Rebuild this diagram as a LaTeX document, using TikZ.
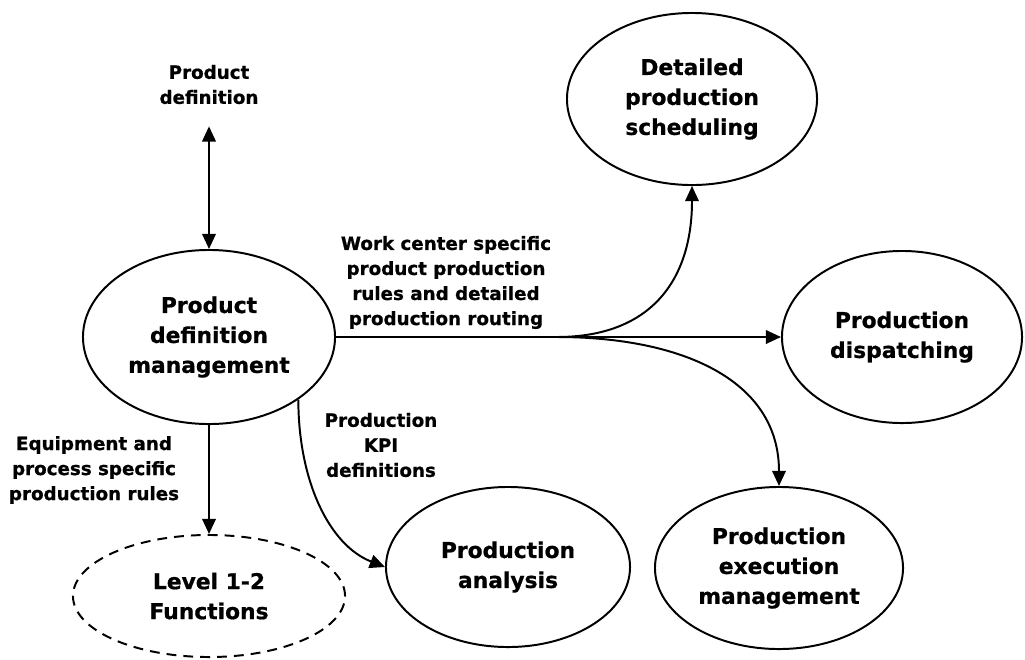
\documentclass[tikz,border=0pt]{standalone}
\usepackage{fontspec}
\setmainfont{DejaVu Sans}[BoldFeatures={FakeBold=0.8}]
\usetikzlibrary{positioning,shapes.geometric,arrows.meta}

\tikzset{
	func/.style={ellipse, draw, line width=1.4pt, inner sep=0pt, align=center, font=\fontsize{15.5}{21.3}\selectfont\bfseries},
	flowlabel/.style={align=center, inner sep=0pt, font=\fontsize{13}{17.8}\selectfont\bfseries},
	flow/.style={line width=1.4pt, ->}
}

\begin{document}
\begin{tikzpicture}[x=0.025cm, y=-0.025cm, >={Triangle[length=0.38cm,width=0.34cm]}]
					\pgfmathsetmacro{\FlowY}{337}
					\pgfmathsetmacro{\SplitX}{557}
					\useasboundingbox (0,0) rectangle (1025,659);
					% FUNCTIONS
					\node[func, minimum width=6.3cm, minimum height=4.35cm] (pdm) at (209,\FlowY) {Product\\definition\\management};
					\node[func, minimum width=6.25cm, minimum height=4.3cm] (dps) at (692,99) {Detailed\\production\\scheduling};
					\node[func, minimum width=6cm, minimum height=4.3cm] (pd) at (902,\FlowY) {Production\\dispatching};
					\node[func, minimum width=6.2cm, minimum height=4.05cm] (pem) at (779,568) {Production\\execution\\management};
					\node[func, minimum width=6.1cm, minimum height=4cm] (pa) at (508,567) {Production\\analysis};
					\node[func, dashed, dash pattern=on 7pt off 5pt, minimum width=6.8cm, minimum height=3.05cm] (lvl) at (209,596) {Level 1-2\\Functions};
					% LABELS
					\node[flowlabel] (pdlbl) at (209,84.5) {Product\\definition};
					\node[flowlabel] (wclbl) at (446,282.5) {Work center specific\\product production\\rules and detailed\\production routing};
					\node[flowlabel] (eqlbl) at (94,470) {Equipment and\\process specific\\production rules};
					\node[flowlabel] (kpilbl) at (381,445) {Production\\KPI\\definitions};
					% FLOWS
					\coordinate (split) at (\SplitX,\FlowY);
					\draw[flow, <->, shorten <=0.55cm] (pdlbl.south) -- (pdm.north);
					\draw[flow] (pdm.east) -- (pd.west);
					\draw[flow] (split) .. controls +(93,0) and +(0,95) .. (dps.south);
					\draw[flow] (split) .. controls +(123,0) and +(0,-107) .. (pem.north);
					\draw[flow] (pdm.-35) .. controls +(0,81) and +(-56,-22) .. (pa.west);
					\draw[flow] (pdm.south) -- (lvl.north);
				\end{tikzpicture}
\end{document}
